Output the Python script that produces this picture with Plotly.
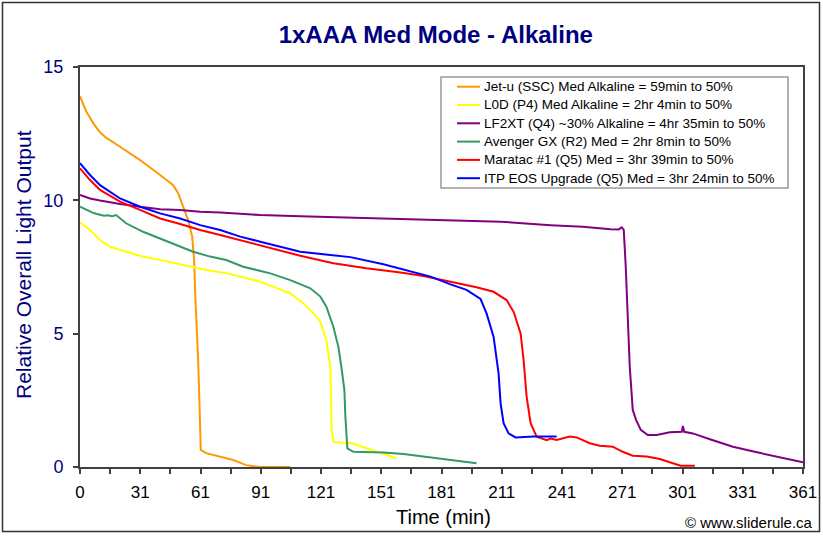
import plotly.graph_objects as go

# ---------------- data ----------------
series_names = [
    "Jet-u (SSC) Med Alkaline = 59min to 50%",
    "L0D (P4) Med Alkaline = 2hr 4min to 50%",
    "LF2XT (Q4) ~30% Alkaline = 4hr 35min to 50%",
    "Avenger GX (R2) Med = 2hr 8min to 50%",
    "Maratac #1 (Q5) Med = 3hr 39min to 50%",
    "ITP EOS Upgrade (Q5) Med = 3hr 24min to 50%",
]
series_colors = ["#FF9900", "#FFFF00", "#800080", "#339966", "#FF0000", "#0000FF"]

jet_t = [0, 1, 3, 5, 7, 10, 13, 20, 30, 40, 46.5, 49, 51.5, 54, 56, 57, 57.5, 58.3, 59, 59.5, 60, 60.3, 63, 70, 76.5, 83, 90, 105]
jet_v = [13.9, 13.7, 13.35, 13.1, 12.85, 12.55, 12.35, 12.01, 11.51, 10.95, 10.57, 10.27, 9.76, 9.26, 8.64, 7.76, 6.51, 5.26, 4.0, 2.76, 1.51, 0.64, 0.52, 0.39, 0.26, 0.07, 0.0, 0.0]

l0d_t = [0, 5, 10, 15, 23, 31.5, 40, 48, 56.5, 65, 73, 81.5, 90, 95, 105, 111.5, 116.5, 120, 123, 125, 125.5, 125.7, 126.5, 130, 135, 141, 148, 158]
l0d_v = [9.17, 8.89, 8.51, 8.26, 8.07, 7.89, 7.76, 7.64, 7.5, 7.36, 7.27, 7.12, 6.95, 6.8, 6.51, 6.14, 5.77, 5.45, 4.76, 3.76, 2.51, 1.39, 0.95, 0.91, 0.91, 0.76, 0.57, 0.33]

lf2_t = [0, 5, 10, 20, 30, 40, 50, 60, 70, 80, 90, 110, 160, 210, 235, 251, 265, 269, 270.5, 271.5, 272.5, 273.5, 274.5, 276, 277.7, 280, 283.5, 288, 294.5, 300.5, 301, 301.7, 306, 314.5, 326, 338, 351, 361]
lf2_v = [10.2, 10.07, 9.99, 9.86, 9.76, 9.67, 9.64, 9.57, 9.54, 9.49, 9.45, 9.4, 9.3, 9.2, 9.07, 9.01, 8.92, 8.91, 8.99, 8.89, 7.51, 5.64, 3.76, 2.14, 1.76, 1.39, 1.2, 1.2, 1.3, 1.32, 1.54, 1.32, 1.26, 1.04, 0.76, 0.55, 0.33, 0.18]

avg_t = [0, 2, 4, 6, 8, 10, 12, 14, 16, 18, 20, 23, 31.5, 40, 48, 56.5, 65, 73, 81.5, 90, 95, 105, 115, 120, 123, 126.5, 129, 130.5, 132, 132.5, 133, 133.5, 136.5, 151.5, 161.5, 175, 185, 198]
avg_v = [9.76, 9.68, 9.6, 9.55, 9.5, 9.47, 9.42, 9.44, 9.4, 9.45, 9.33, 9.14, 8.82, 8.57, 8.32, 8.07, 7.89, 7.76, 7.51, 7.36, 7.26, 7.01, 6.7, 6.39, 6.01, 5.26, 4.51, 3.76, 2.89, 1.89, 1.01, 0.7, 0.57, 0.54, 0.49, 0.36, 0.26, 0.14]

mar_t = [0, 5, 10, 20, 30, 40, 50, 60, 70, 80, 90, 110, 126.5, 143, 160, 171.5, 185, 198, 206.5, 213, 216.5, 220, 221.5, 223, 225, 228, 233, 235, 238, 244.5, 248, 254.5, 259.5, 266, 271, 276, 283, 289.5, 296, 300, 307]
mar_v = [11.2, 10.76, 10.39, 9.95, 9.64, 9.32, 9.11, 8.89, 8.7, 8.51, 8.3, 7.92, 7.64, 7.45, 7.29, 7.16, 6.95, 6.74, 6.57, 6.26, 5.82, 5.01, 4.01, 2.64, 1.64, 1.14, 1.01, 1.07, 1.01, 1.14, 1.11, 0.89, 0.8, 0.76, 0.57, 0.42, 0.39, 0.3, 0.14, 0.05, 0.05]

itp_t = [0, 5, 10, 15, 20, 30, 40, 50, 60, 70, 80, 90, 110, 125, 135, 151.5, 166.5, 175, 185, 193, 200, 203, 206.5, 209, 210, 211.5, 214, 217.5, 226.5, 238]
itp_v = [11.39, 10.95, 10.57, 10.32, 10.07, 9.76, 9.51, 9.32, 9.07, 8.89, 8.64, 8.45, 8.07, 7.95, 7.87, 7.6, 7.32, 7.14, 6.85, 6.64, 6.3, 5.76, 4.89, 3.51, 2.39, 1.64, 1.26, 1.11, 1.14, 1.14]

x_tick_labels = ["0", "31", "61", "91", "121", "151", "181", "211", "241", "271", "301", "331", "361"]
y_tick_values = [0, 5, 10, 15]

series_t = [jet_t, l0d_t, lf2_t, avg_t, mar_t, itp_t]
series_v = [jet_v, l0d_v, lf2_v, avg_v, mar_v, itp_v]

# ---------------- figure ----------------
X_MAX = 361
FONT = "Arial, 'Liberation Sans', sans-serif"
NARROW = "'Arial Narrow', 'Liberation Sans Narrow', Arial, 'Liberation Sans', sans-serif"
NAVY = "#000080"

fig = go.Figure()
for name, color, t, v in zip(series_names, series_colors, series_t, series_v):
    fig.add_trace(go.Scatter(x=t, y=v, mode="lines", name=name,
                             line=dict(color=color, width=2), showlegend=False))

# ticks every 1/24 of the range, labels every other
tick_pos = [i * X_MAX / 24 for i in range(25)]
tick_txt = [x_tick_labels[i // 2] if i % 2 == 0 else "" for i in range(25)]

fig.update_xaxes(range=[0, X_MAX], tickvals=tick_pos, ticktext=tick_txt, automargin=False,
                 ticks="outside", ticklen=5, tickwidth=1.5, tickcolor="#404040",
                 showline=True, linecolor="#404040", linewidth=2, mirror=True,
                 showgrid=False, zeroline=False, ticklabelstandoff=4,
                 tickfont=dict(family=NARROW, size=17, color="black"))
fig.update_yaxes(range=[0, 15], tickvals=y_tick_values, automargin=False,
                 ticks="outside", ticklen=5, tickwidth=1.5, tickcolor="#404040",
                 showline=True, linecolor="#404040", linewidth=2, mirror=True,
                 showgrid=False, zeroline=False, ticklabelstandoff=6,
                 tickfont=dict(family=FONT, size=18, color=NAVY))

W, H = 823, 536
L, R, T, B = 80, 20, 67, 69
PW, PH = W - L - R, H - T - B


def px_x(p):
    return (p - L) / PW


def px_y(p):
    return (H - B - p) / PH


shapes = []
annotations = []

# outer chart border
shapes.append(dict(type="rect", xref="paper", yref="paper",
                   x0=px_x(2.5), x1=px_x(819.5), y0=px_y(531.5), y1=px_y(2.5),
                   line=dict(color="#333333", width=1.5), fillcolor="rgba(0,0,0,0)"))

# legend box
shapes.append(dict(type="rect", xref="paper", yref="paper",
                   x0=px_x(441), x1=px_x(788), y0=px_y(188), y1=px_y(77),
                   line=dict(color="#999999", width=1.5), fillcolor="white"))
for i, (name, color) in enumerate(zip(series_names, series_colors)):
    yc = 86.7 + i * 18.3
    shapes.append(dict(type="line", xref="paper", yref="paper",
                       x0=px_x(457), x1=px_x(480), y0=px_y(yc), y1=px_y(yc),
                       line=dict(color=color, width=2)))
    annotations.append(dict(text=name, xref="paper", yref="paper",
                            x=px_x(482), y=px_y(yc), xanchor="left", yanchor="middle",
                            showarrow=False, font=dict(family=FONT, size=13.5, color="black")))

# axis titles
annotations.append(dict(text="Relative Overall Light Output", xref="paper", yref="paper",
                        x=px_x(23), y=px_y(265), textangle=-90, xanchor="center", yanchor="middle",
                        showarrow=False, font=dict(family=FONT, size=21, color=NAVY)))
annotations.append(dict(text="Time (min)", xref="paper", yref="paper",
                        x=px_x(443), y=px_y(517), xanchor="center", yanchor="middle",
                        showarrow=False, font=dict(family=FONT, size=20, color="black")))
annotations.append(dict(text="© www.sliderule.ca", xref="paper", yref="paper",
                        x=px_x(815), y=px_y(522), xanchor="right", yanchor="middle",
                        showarrow=False, font=dict(family=NARROW, size=15, color="black")))

fig.update_layout(
    width=W, height=H, autosize=False,
    margin=dict(l=L, r=R, t=T, b=B, pad=0, autoexpand=False),
    paper_bgcolor="white", plot_bgcolor="white",
    title=dict(text="1xAAA Med Mode - Alkaline", x=435.8 / W, xref="container",
               y=1 - 34.3 / H, yref="container", xanchor="center", yanchor="middle",
               font=dict(family=FONT, size=24, color=NAVY, weight="bold")),
    shapes=shapes, annotations=annotations, showlegend=False,
)

fig.write_html("out.html", config={"displayModeBar": False},
               post_script="document.body.style.margin='0';document.body.style.overflow='hidden';")
